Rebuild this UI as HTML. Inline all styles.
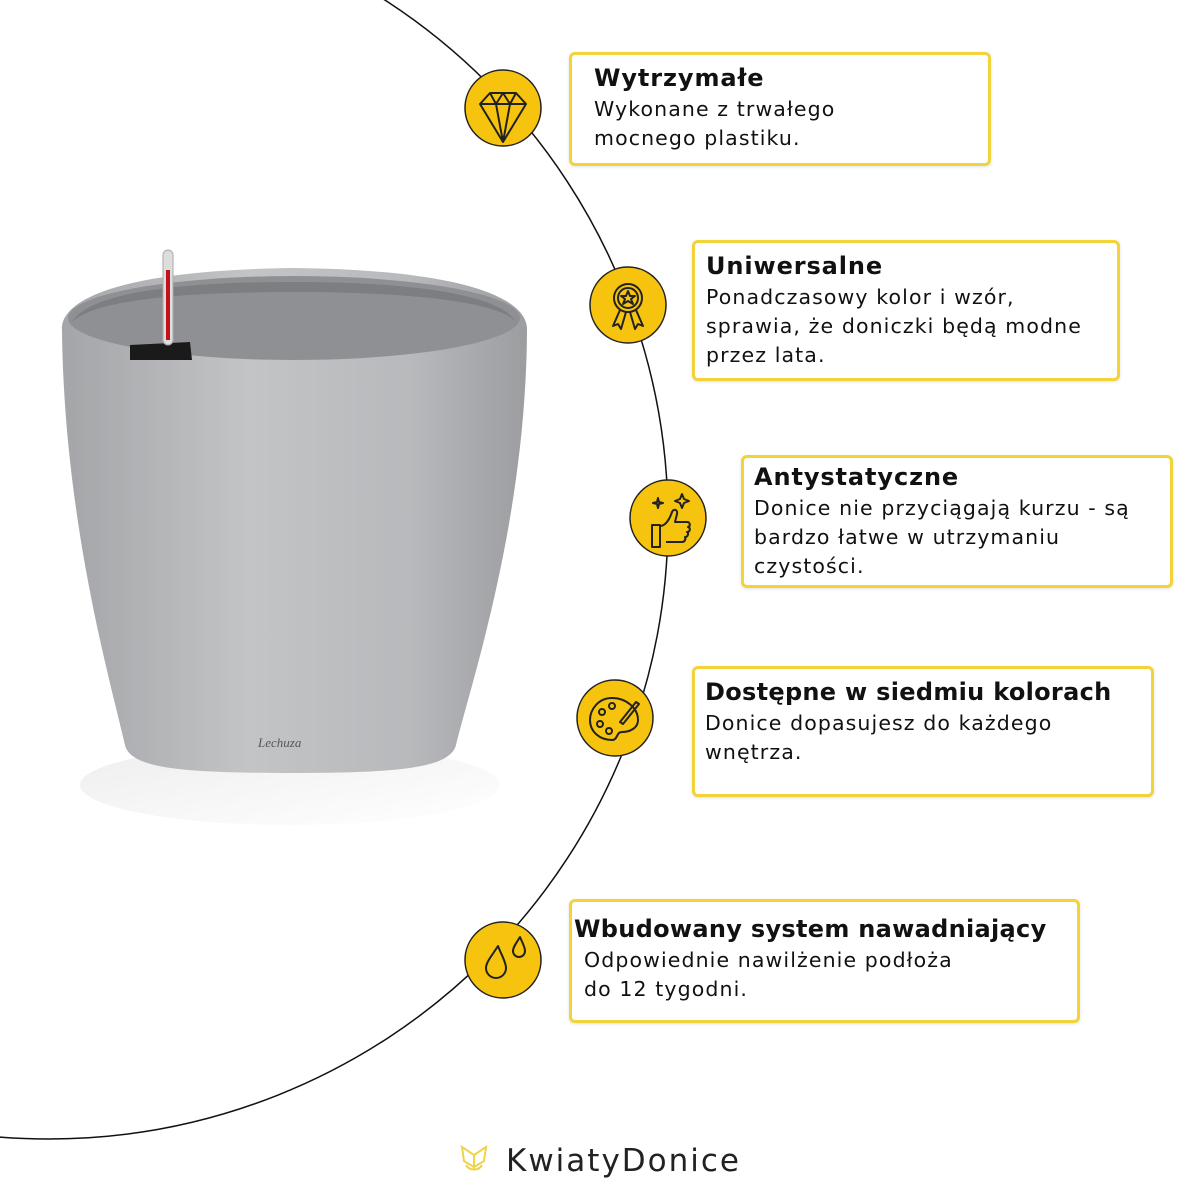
<!DOCTYPE html>
<html><head><meta charset="utf-8"><style>
body{margin:0;width:1200px;height:1200px;background:#fff;position:relative;overflow:hidden;font-family:"DejaVu Sans","Liberation Sans",sans-serif}
.b{position:absolute;border:3px solid #f3d23a;border-radius:6px;background:#fff;box-sizing:border-box;box-shadow:0 1px 3px rgba(0,0,0,.12);color:#111}
.b h3{margin:0;font-size:24px;font-weight:bold;line-height:30px;letter-spacing:.9px}
.b p{margin:2px 0 0;font-size:20.5px;line-height:29px;letter-spacing:1.1px}
</style></head><body>
<svg width="1200" height="1200" style="position:absolute;left:0;top:0">
<defs>
<linearGradient id="g" x1="0" x2="1"><stop offset="0" stop-color="#a4a5a8"/><stop offset=".4" stop-color="#c3c4c6"/><stop offset=".75" stop-color="#b8b9bc"/><stop offset="1" stop-color="#9c9da0"/></linearGradient>
<linearGradient id="s" y1="0" y2="1"><stop offset="0" stop-color="#eee"/><stop offset="1" stop-color="#fff"/></linearGradient>
</defs>
<circle cx="49" cy="520" r="619" fill="none" stroke="#111" stroke-width="1.5"/>
<ellipse cx="290" cy="785" rx="210" ry="40" fill="url(#s)"/>
<path d="M62 330 C60 300 120 270 294 268 C470 270 528 300 527 330 C526 520 472 680 456 745 C450 768 400 773 290 773 C180 773 130 768 125 745 C110 680 64 520 62 330Z" fill="url(#g)"/>
<ellipse cx="294" cy="318" rx="226" ry="42" fill="#8f9093"/>
<path d="M72 322 C90 292 180 282 294 282 C410 282 500 294 516 322 C500 302 410 292 294 292 C180 292 95 300 72 322Z" fill="#7d7e81"/>
<path d="M130 345 L190 342 L192 360 L130 360Z" fill="#1a1a1a"/>
<rect x="163" y="250" width="10" height="95" rx="5" fill="#ddd" stroke="#aaa"/>
<rect x="166" y="270" width="4" height="70" fill="#c3121e"/>
<text x="258" y="747" font-family="Liberation Serif" font-style="italic" font-size="13" fill="#555">Lechuza</text>
<g stroke="#222" stroke-width="1.5" fill="#f6c30f">
<circle cx="503" cy="108" r="38"/><circle cx="628" cy="305" r="38"/><circle cx="668" cy="518" r="38"/><circle cx="615" cy="718" r="38"/><circle cx="503" cy="960" r="38"/>
</g>
<g stroke="#222" stroke-width="2" fill="none" stroke-linejoin="round">
<path d="M480 104 L490 93 L516 93 L526 104 L503 142Z M480 104 H526 M490 93 L496 104 L503 93 L510 104 L516 93 M496 104 L503 142 L510 104"/>
<circle cx="628" cy="298" r="14"/><circle cx="628" cy="298" r="10"/>
<path d="M620 310 L613 326 L618 324 L621 329 L626 312 M636 310 L643 326 L638 324 L635 329 L630 312"/>
<path d="M628 291 l2 5 5 0 -4 3 2 5 -5 -3 -5 3 2 -5 -4 -3 5 0z"/>
<path d="M652 525 h8 v22 h-8z M660 526 c6 0 10 -8 12 -14 c2 -4 6 -2 5 2 l-2 8 h12 c3 0 4 4 1 5 c3 1 2 5 -1 5 c2 1 1 5 -2 5 c1 2 0 5 -3 5 h-16"/>
<path d="M682 494 l2 5 5 2 -5 2 -2 5 -2 -5 -5 -2 5 -2z M658 498 l1 4 4 1 -4 1 -1 4 -1 -4 -4 -1 4 -1z"/>
<path d="M612 698 c-14 0 -22 12 -22 22 c0 12 10 20 22 20 c6 0 4 -8 10 -8 c8 0 16 -4 16 -12 c0 -12 -12 -22 -26 -22z"/>
<circle cx="602" cy="712" r="3"/><circle cx="612" cy="706" r="3"/><circle cx="600" cy="724" r="3"/><circle cx="609" cy="731" r="3"/>
<path d="M620 722 l16 -20 l3 2 -16 20z"/>
<path d="M498 946 c-5 8 -12 16 -12 22 a10 10 0 0 0 20 0 c0 -6 -5 -14 -8 -22z M520 937 c-3 5 -7 10 -7 14 a6 6 0 0 0 12 0 c0 -4 -3 -9 -5 -14z"/>
</g>
<g stroke="#f0d348" stroke-width="2" fill="none"><path d="M462 1147 l12 8 v12 l-10 -6z M486 1147 l-12 8 v12 l10 -6z M466 1165 c3 6 13 6 16 0 c-4 6 -12 6 -16 0z"/></g>
<text x="506" y="1171" font-size="31" fill="#222" letter-spacing="2">KwiatyDonice</text>
</svg>
<div class="b" style="left:569px;top:52px;width:422px;height:114px;padding:8px 22px"><h3>Wytrzymałe</h3><p>Wykonane z trwałego<br>mocnego plastiku.</p></div>
<div class="b" style="left:692px;top:240px;width:428px;height:141px;padding:8px 11px"><h3>Uniwersalne</h3><p>Ponadczasowy kolor i wzór,<br>sprawia, że doniczki będą modne<br>przez lata.</p></div>
<div class="b" style="left:741px;top:455px;width:432px;height:133px;padding:4px 10px"><h3>Antystatyczne</h3><p>Donice nie przyciągają kurzu - są<br>bardzo łatwe w utrzymaniu<br>czystości.</p></div>
<div class="b" style="left:692px;top:666px;width:462px;height:131px;padding:8px 10px"><h3 style="letter-spacing:.3px">Dostępne w siedmiu kolorach</h3><p>Donice dopasujesz do każdego<br>wnętrza.</p></div>
<div class="b" style="left:569px;top:899px;width:511px;height:124px;padding:12px 2px 0 12px"><h3 style="margin-left:-10px;white-space:nowrap;letter-spacing:.3px">Wbudowany system nawadniający</h3><p>Odpowiednie nawilżenie podłoża<br>do 12 tygodni.</p></div>
</body></html>
